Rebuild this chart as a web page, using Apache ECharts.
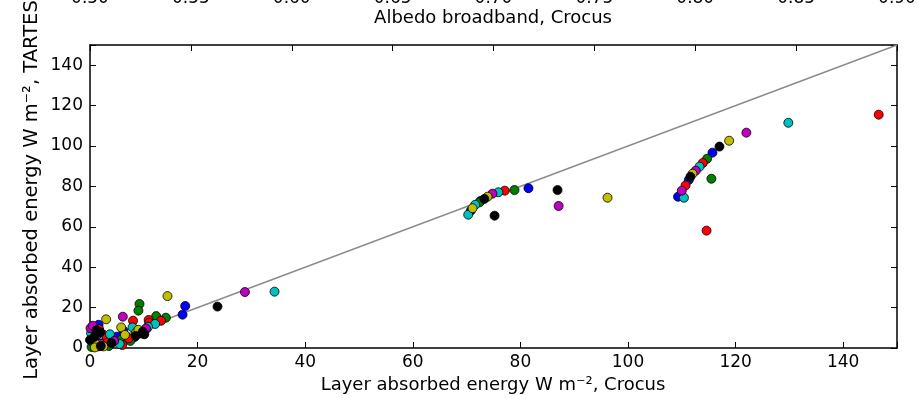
<!DOCTYPE html>
<html>
<head>
<meta charset="utf-8">
<script src="https://cdn.jsdelivr.net/npm/echarts@6/dist/echarts.min.js"></script>
<style>html,body{margin:0;padding:0;background:#fff;}#c{width:919px;height:398px;}</style>
</head>
<body>
<div id="c"></div>
<script>
// ---- data ----
const xTicks = [0, 20, 40, 60, 80, 100, 120, 140];
const yTicks = [0, 20, 40, 60, 80, 100, 120, 140];
const albedoTicks = ['0.50', '0.55', '0.60', '0.65', '0.70', '0.75', '0.80', '0.85', '0.90'];
const oneToOne = [[0, 0], [150, 150]];

const blueData = [[1.6,11.5],[6.2,8.6],[8.2,5.3],[5.0,5.6],[4.1,4.3],[17.2,16.5],[17.7,20.8],[2.5,3.0],[0.8,1.5],[9.5,7.2],[3.2,5.0],
  [70.8,68.0],[72.6,72.8],[81.5,79.1],[109.3,74.9],[111.3,83.2],[115.7,96.7]];
const greenData = [[9.2,21.8],[9.0,18.5],[12.3,15.8],[14.1,15.0],[5.9,4.3],[0.5,2.3],[1.5,0.8],[3.5,1.0],[10.5,9.5],[7.5,3.5],[0.3,0.5],
  [72.4,72.1],[78.9,78.2],[114.7,93.7],[115.5,83.8]];
const redData = [[8.0,13.5],[10.9,13.9],[13.2,13.5],[7.2,4.8],[3.0,3.1],[1.7,9.3],[2.5,6.5],[6.0,1.5],[11.0,12.5],[0.6,6.0],
  [77.1,77.9],[113.9,91.6],[110.7,80.5],[114.6,58.1],[146.6,115.5]];
const cyanData = [[12.1,11.9],[7.9,10.2],[3.7,6.8],[0.2,7.3],[1.5,4.5],[5.5,2.0],[10.8,10.5],[0.4,3.0],[34.3,27.9],
  [70.3,66.0],[71.6,70.9],[75.9,77.1],[113.3,89.8],[110.4,74.4],[129.8,111.5]];
const magentaData = [[6.1,15.5],[0.1,9.8],[10.4,9.7],[0.5,11.0],[4.5,3.5],[2.0,2.0],[1.2,6.2],[28.8,27.7],
  [74.8,76.4],[87.1,70.3],[112.6,87.8],[110.0,77.9],[122.0,106.6]];
const yellowData = [[3.0,14.2],[5.8,10.2],[8.6,7.8],[1.1,2.0],[2.5,0.8],[6.5,6.5],[9.0,9.0],[0.9,0.3],[14.4,25.7],
  [71.1,69.2],[73.9,74.9],[96.2,74.4],[112.0,86.3],[118.8,102.6]];
const blackData = [[9.8,8.1],[10.1,6.8],[1.9,7.8],[0.0,4.0],[2.0,1.0],[4.0,2.5],[0.8,5.5],[8.5,6.0],[1.2,8.8],[23.7,20.5],
  [73.3,73.8],[75.2,65.5],[86.9,78.2],[111.6,84.8],[117.0,99.7]];

const seriesDefs = [
  ['b', blueData, '#0000ff'],
  ['g', greenData, '#008000'],
  ['r', redData, '#ff0000'],
  ['c', cyanData, '#00bfbf'],
  ['m', magentaData, '#bf00bf'],
  ['y', yellowData, '#bfbf00'],
  ['k', blackData, '#000000']
];

const FONT = 'DejaVu Sans';
const chart = echarts.init(document.getElementById('c'), null, {renderer: 'canvas'});

const axisLineStyle = {show: true, onZero: false, lineStyle: {color: '#000', width: 1.5}};
const tickStyle = {show: true, inside: true, length: 6, lineStyle: {color: '#000', width: 1}};

const scatterSeries = seriesDefs.map(([name, data, color]) => ({
  name, type: 'scatter', xAxisIndex: 0, yAxisIndex: 0, data,
  symbol: 'circle', symbolSize: 9, z: 3,
  itemStyle: {color, borderColor: '#000', borderWidth: 0.8, opacity: 1},
  emphasis: {disabled: true}
}));

chart.setOption({
  animation: false,
  backgroundColor: '#fff',
  grid: {left: 90, right: 22, top: 45, bottom: 50, containLabel: false, outerBoundsMode: 'none'},
  xAxis: [
    {type: 'value', position: 'bottom', min: 0, max: 150, interval: 20,
      axisLine: axisLineStyle, axisTick: tickStyle, splitLine: {show: false},
      axisLabel: {color: '#000', fontSize: 17, fontFamily: FONT, margin: 6,
        formatter: v => xTicks.indexOf(v) >= 0 ? String(v) : ''}},
    {type: 'value', position: 'top', min: 50, max: 90, interval: 5,
      axisLine: axisLineStyle, axisTick: tickStyle, splitLine: {show: false},
      axisLabel: {color: '#000', fontSize: 17, fontFamily: FONT, margin: 38, hideOverlap: false,
        formatter: v => { const i = Math.round((v - 50) / 5); return albedoTicks[i] || ''; }}}
  ],
  yAxis: [
    {type: 'value', position: 'left', min: 0, max: 150, interval: 20,
      axisLine: axisLineStyle, axisTick: tickStyle, splitLine: {show: false},
      axisLabel: {color: '#000', fontSize: 17, fontFamily: FONT, margin: 7,
        formatter: v => yTicks.indexOf(v) >= 0 ? String(v) : ''}},
    {type: 'value', position: 'right', min: 0, max: 150, interval: 20,
      axisLine: axisLineStyle, axisTick: tickStyle, splitLine: {show: false},
      axisLabel: {show: false}}
  ],
  series: [
    {type: 'line', data: oneToOne, xAxisIndex: 0, yAxisIndex: 0, symbol: 'none', z: 2,
      lineStyle: {color: '#8c8c8c', width: 1.5}, emphasis: {disabled: true}},
    ...scatterSeries
  ],
  graphic: [
    {type: 'text', x: 493, y: 385, style: {text: 'Layer absorbed energy W m⁻², Crocus', fontSize: 18, fontFamily: FONT,
      fill: '#000', textAlign: 'center', textVerticalAlign: 'middle'}},
    {type: 'text', x: 493, y: 18, style: {text: 'Albedo broadband, Crocus', fontSize: 18, fontFamily: FONT,
      fill: '#000', textAlign: 'center', textVerticalAlign: 'middle'}},
    {type: 'text', x: 32, y: 190, rotation: Math.PI / 2, style: {text: 'Layer absorbed energy W m⁻², TARTES', fontSize: 19.5, fontFamily: FONT,
      fill: '#000', textAlign: 'center', textVerticalAlign: 'middle'}}
  ]
});
</script>
</body>
</html>
